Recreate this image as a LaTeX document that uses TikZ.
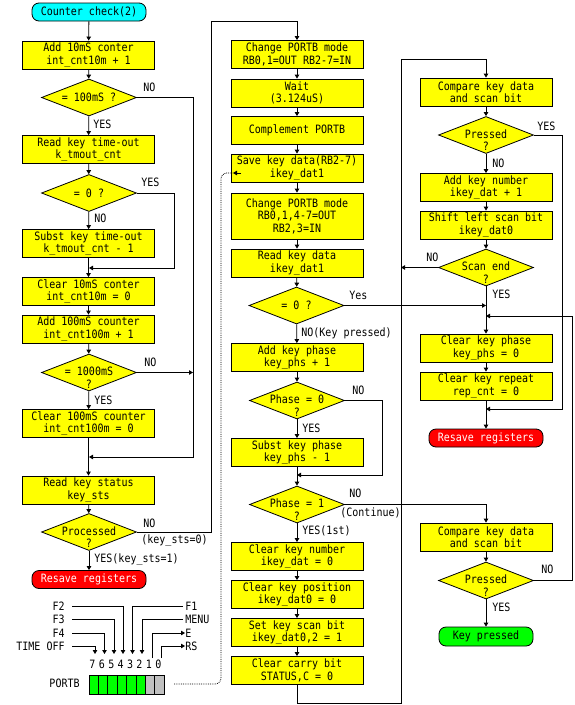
\documentclass[tikz,border=0pt]{standalone}
\usepackage{fontspec}
\newfontfamily\gfont[FakeStretch=0.87]{DejaVu Sans Mono}
\usetikzlibrary{shapes.geometric,arrows.meta}
\definecolor{boxyellow}{RGB}{255,255,0}
\definecolor{termcyan}{RGB}{0,255,255}
\definecolor{termred}{RGB}{255,0,0}
\definecolor{termgreen}{RGB}{0,255,0}
\definecolor{cellgray}{RGB}{192,192,192}
\begin{document}
\begin{tikzpicture}[x=1pt,y=-1pt,line width=0.8pt,
  every node/.style={font=\gfont\fontsize{11.5}{12.5}\selectfont, inner sep=0pt},
  box/.style={draw, fill=boxyellow, minimum width=132pt, minimum height=28pt, align=center},
  dia/.style={draw, fill=boxyellow, diamond, minimum width=95pt, minimum height=37pt},
  dtext/.style={align=center},
  term/.style={draw, rounded corners=7pt, minimum width=114pt, minimum height=18pt},
  lbl/.style={anchor=west},
  rlbl/.style={anchor=east},
  arr/.style={-{Triangle[length=4pt,width=4.5pt]}}
]
\useasboundingbox (0,0) rectangle (574,705);

% ---------- Column 1 ----------
\node[term, fill=termcyan] (t1) at (89,12) {Counter check(2)};
\node[box] (b1) at (88.5,55) {Add 10mS conter\\int\_cnt10m + 1};
\node[dia] (d1) at (89,97.5) {};
\node (d1t) at (89,97.5) {= 100mS ?};
\node[box] (b2) at (88.5,149.5) {Read key time-out\\k\_tmout\_cnt};
\node[dia] (d2) at (89,193) {};
\node (d2t) at (89,193) {= 0 ?};
\node[box] (b3) at (88.5,243.5) {Subst key time-out\\k\_tmout\_cnt - 1};
\coordinate (m1) at (89,268);
\node[box] (b4) at (88.5,291.5) {Clear 10mS conter\\int\_cnt10m = 0};
\node[box] (b5) at (88.5,329) {Add 100mS counter\\int\_cnt100m + 1};
\node[dia] (d3) at (89,372.5) {};
\node[dtext] (d3t) at (89,377.5) {= 1000mS\\?};
\node[box] (b6) at (88.5,423.5) {Clear 100mS counter\\int\_cnt100m = 0};
\coordinate (m2) at (89,457);
\node[box] (b7) at (88.5,490) {Read key status\\key\_sts};
\node[dia] (d4) at (89,532) {};
\node[dtext] (d4t) at (89,537) {Processed\\?};
\node[term, fill=termred, text=white] (t2) at (89,579.5) {Resave registers};

\draw[arr] (t1) -- (b1);
\draw[arr] (b1) -- (d1);
\draw[arr] (d1) -- (b2);
\draw[arr] (b2) -- (d2);
\draw[arr] (d2) -- (b3);
\draw[arr] (b3) -- (b4);
\draw[arr] (b4) -- (b5);
\draw[arr] (b5) -- (d3);
\draw[arr] (d3) -- (b6);
\draw[arr] (b6) -- (b7);
\draw[arr] (b7) -- (d4);
\draw[arr] (d4) -- (t2);
\coordinate (r1a) at (193,97.5);
\coordinate (r1b) at (193,457);
\draw[arr] (d1.east) -- (r1a) -- (r1b) -- (m2);
\coordinate (r2a) at (174,193);
\coordinate (r2b) at (174,268);
\draw[arr] (d2.east) -- (r2a) -- (r2b) -- (m1);
\coordinate (r3) at (193,372.5);
\draw[arr] (d3.east) -- (r3);

\node[lbl] (l1) at (143,87) {NO};
\node[lbl] (l2) at (93,124) {YES};
\node[lbl] (l3) at (141,182) {YES};
\node[lbl] (l4) at (94,218) {NO};
\node[lbl] (l5) at (144,362) {NO};
\node[lbl] (l6) at (94,400) {YES};
\node[lbl] (l7) at (143,523) {NO};
\node[lbl] (l8) at (141,540) {(key\_sts=0)};
\node[lbl] (l9) at (94,559) {YES(key\_sts=1)};

% ---------- PORTB ----------
\node[rlbl] (pF2) at (65,606) {F2};
\node[rlbl] (pF3) at (65,619) {F3};
\node[rlbl] (pF4) at (65,633) {F4};
\node[rlbl] (pTO) at (65,646) {TIME OFF};
\node[lbl] (pF1) at (185,606) {F1};
\node[lbl] (pMN) at (185,619) {MENU};
\node[lbl] (pE) at (185,633) {E};
\node[lbl] (pRS) at (185,646) {RS};
\coordinate (q4) at (123,654);
\coordinate (q5) at (114,654);
\coordinate (q6) at (104.5,654);
\coordinate (q7) at (95,654);
\coordinate (q3) at (132.5,654);
\coordinate (q2) at (142,654);
\draw[arr] (72,606) -| (q4);
\draw[arr] (72,619) -| (q5);
\draw[arr] (72,633) -| (q6);
\draw[arr] (72,646) -| (q7);
\draw[arr] (183,606) -| (q3);
\draw[arr] (183,619) -| (q2);
\coordinate (q1) at (152,658);
\coordinate (q0) at (161,658);
\draw[arr] (q1) |- (pE.west);
\draw[arr] (q0) |- (pRS.west);
\foreach \b [count=\k from 0] in {7,6,5,4,3,2,1,0}{
  \node (bit\b) at ({92.5+9.4*\k},664.5) {\b};
}
\node[rlbl] (portb) at (80,683) {PORTB};
\foreach \k in {0,...,5}{
  \draw[fill=termgreen] ({89+9.4*\k},675) rectangle ({89+9.4*(\k+1)},694);
}
\foreach \k in {6,7}{
  \draw[fill=cellgray] ({89+9.4*\k},675) rectangle ({89+9.4*(\k+1)},694);
}
\coordinate (dotA) at (174,684);
\coordinate (dotB) at (233,173);

% ---------- Column 2 ----------
\node[box] (c1) at (297,54.5) {Change PORTB mode\\RB0,1=OUT RB2-7=IN};
\node[box] (c2) at (297,93) {Wait\\(3.124uS)};
\node[box] (c3) at (297,130.5) {Complement PORTB};
\node[box] (c4) at (297,168) {Save key data(RB2-7)\\ikey\_dat1};
\node[box, minimum height=46pt] (c5) at (297,216) {Change PORTB mode\\RB0,1,4-7=OUT\\RB2,3=IN};
\node[box] (c6) at (297,263) {Read key data\\ikey\_dat1};
\node[dia] (e1) at (296.5,305.5) {};
\node (e1t) at (296.5,305.5) {= 0 ?};
\node[box] (c7) at (297,357.5) {Add key phase\\key\_phs + 1};
\node[dia] (e2) at (297,400.5) {};
\node[dtext] (e2t) at (297,405.5) {Phase = 0\\?};
\node[box] (c8) at (297,452.5) {Subst key phase\\key\_phs - 1};
\coordinate (m3) at (297,475);
\node[dia] (e3) at (297,504.5) {};
\node[dtext] (e3t) at (297,509.5) {Phase = 1\\?};
\node[box] (c9) at (297,556.5) {Clear key number\\ikey\_dat = 0};
\node[box] (c10) at (297,594.5) {Clear key position\\ikey\_dat0 = 0};
\node[box] (c11) at (297,632.5) {Set key scan bit\\ikey\_dat0,2 = 1};
\node[box] (c12) at (297,670.5) {Clear carry bit\\STATUS,C = 0};

\draw[densely dotted, rounded corners=6pt] (dotA) -- (221,684) -- (221,173) -- (dotB);
\draw[arr] (241,173) -- (dotB);

\draw[arr] (c1) -- (c2);
\draw[arr] (c2) -- (c3);
\draw[arr] (c3) -- (c4);
\draw[arr] (c4) -- (c5);
\draw[arr] (c5) -- (c6);
\draw[arr] (c6) -- (e1);
\draw[arr] (e1) -- (c7);
\draw[arr] (c7) -- (e2);
\draw[arr] (e2) -- (c8);
\draw[arr] (c8) -- (e3);
\draw[arr] (e3) -- (c9);
\draw[arr] (c9) -- (c10);
\draw[arr] (c10) -- (c11);
\draw[arr] (c11) -- (c12);
\coordinate (r4a) at (211,532);
\coordinate (r4b) at (211,21);
\coordinate (r4c) at (297,21);
\draw[arr] (d4.east) -- (r4a) -- (r4b) -- (r4c) -- (c1.north);
\coordinate (r5a) at (382,400.5);
\coordinate (r5b) at (382,475);
\draw[arr] (e2.east) -- (r5a) -- (r5b) -- (m3);

\node[lbl] (n1) at (349,295) {Yes};
\node[lbl] (n2) at (301,333) {NO(Key pressed)};
\node[lbl] (n3) at (352,390) {NO};
\node[lbl] (n4) at (302,428) {YES};
\node[lbl] (n5) at (349,493) {NO};
\node[lbl] (n6) at (340,513) {(Continue)};
\node[lbl] (n7) at (302,531) {YES(1st)};

% ---------- Column 3 ----------
\node[box] (k1) at (486,92) {Compare key data\\and scan bit};
\node[dia] (f1) at (486,135) {};
\node[dtext] (f1t) at (486,140) {Pressed\\?};
\node[box] (k2) at (486,187.5) {Add key number\\ikey\_dat + 1};
\node[box] (k3) at (486,225) {Shift left scan bit\\ikey\_dat0};
\node[dia] (f2) at (486,267.5) {};
\node[dtext] (f2t) at (486,272.5) {Scan end\\?};
\coordinate (m4) at (486,305.5);
\coordinate (m5) at (486,316);
\node[box] (k4) at (486,348) {Clear key phase\\key\_phs = 0};
\node[box] (k5) at (486,386) {Clear key repeat\\rep\_cnt = 0};
\coordinate (m6) at (486,409);
\node[term, fill=termred, text=white] (t3) at (486,438) {Resave registers};
\node[box] (k6) at (486,537) {Compare key data\\and scan bit};
\node[dia] (f3) at (486,580.5) {};
\node[dtext] (f3t) at (486,585.5) {Pressed\\?};
\node[term, fill=termgreen, minimum width=94pt, minimum height=19pt] (t4) at (486,636.5) {Key pressed};

\draw[arr] (k1) -- (f1);
\draw[arr] (f1) -- (k2);
\draw[arr] (k2) -- (k3);
\draw[arr] (k3) -- (f2);
\draw[arr] (f2) -- (k4);
\draw[arr] (k4) -- (k5);
\draw[arr] (k5) -- (t3);
\draw[arr] (k6) -- (f3);
\draw[arr] (f3) -- (t4);

\coordinate (r6a) at (297,703);
\coordinate (r6b) at (401,703);
\coordinate (r6c) at (401,59);
\coordinate (r6d) at (486,59);
\draw[arr] (c12.south) -- (r6a) -- (r6b) -- (r6c) -- (r6d) -- (k1.north);
\coordinate (r7) at (401,267.5);
\draw[arr] (f2.west) -- (r7);
\draw[arr] (e1.east) -- (m4);
\coordinate (r8) at (486,504.5);
\draw[arr] (e3.east) -- (r8) -- (k6.north);
\coordinate (r9a) at (562,135);
\coordinate (r9b) at (562,409);
\draw[arr] (f1.east) -- (r9a) -- (r9b) -- (m6);
\coordinate (r10a) at (572,580.5);
\coordinate (r10b) at (572,316);
\draw[arr] (f3.east) -- (r10a) -- (r10b) -- (m5);

\node[lbl] (o1) at (537,126) {YES};
\node[lbl] (o2) at (492,163) {NO};
\node[lbl] (o3) at (426,257) {NO};
\node[lbl] (o4) at (492,294) {YES};
\node[lbl] (o5) at (541,569) {NO};
\node[lbl] (o6) at (492,607) {YES};
\end{tikzpicture}
\end{document}
